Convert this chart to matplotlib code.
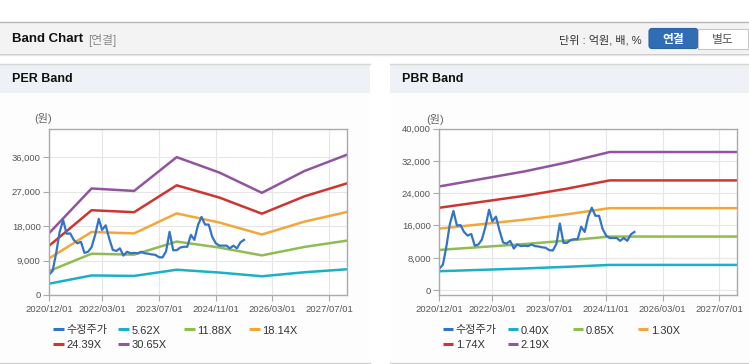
import numpy as np
import pandas as pd
import matplotlib
matplotlib.use('Agg')
import matplotlib.pyplot as plt
import matplotlib.dates as mdates
from matplotlib.patches import Rectangle, FancyBboxPatch
from matplotlib.ticker import FuncFormatter

plt.rcParams['font.family'] = ['Liberation Sans', 'Noto Sans CJK KR']

# 수정주가 (monthly, 2020/12 ~ 2025/07)
price_start = '2020-12-01'
price = [5300, 6300, 11000, 16300, 19600, 16000, 16100, 14400, 13500, 13900,
         11000, 11300, 12500, 15700, 19900, 17000, 18200, 14800, 11800, 11500,
         12200, 10300, 11300, 10900, 11000, 10900, 11300, 10900, 10800, 10600,
         10500, 9900, 9800, 11400, 16500, 11700, 11700, 12400, 12600, 12600,
         15700, 14400, 18300, 20400, 18400, 18400, 15200, 13500, 12900, 12900,
         12900, 12200, 12900, 12200, 13800, 14400]

# PER band
per_dates = ['2020-12-01', '2021-12-01', '2022-12-01', '2023-12-01',
             '2024-12-01', '2025-12-01', '2026-12-01', '2027-12-01']
per_labels = ['5.62X', '11.88X', '18.14X', '24.39X', '30.65X']
per_562 = [2956, 5103, 4985, 6604, 5867, 4895, 5940, 6722]
per_1188 = [6249, 10787, 10538, 13959, 12403, 10347, 12557, 14208]
per_1814 = [9542, 16471, 16090, 21315, 18938, 15800, 19174, 21695]
per_2439 = [12829, 22146, 21634, 28658, 25463, 21244, 25780, 29170]
per_3065 = [16122, 27830, 27187, 36014, 31999, 26696, 32397, 36657]

# PBR band
pbr_dates = ['2020-12-01', '2021-12-01', '2022-12-01', '2023-12-01',
             '2024-12-01', '2027-12-01']
pbr_labels = ['0.40X', '0.85X', '1.30X', '1.74X', '2.19X']
pbr_040 = [4687, 5026, 5366, 5774, 6243, 6243]
pbr_085 = [9959, 10681, 11404, 12269, 13266, 13266]
pbr_130 = [15232, 16336, 17441, 18764, 20289, 20289]
pbr_174 = [20388, 21865, 23344, 25115, 27156, 27156]
pbr_219 = [25660, 27520, 29380, 31610, 34180, 34180]

tick_dates = ['2020-12-01', '2022-03-01', '2023-07-01', '2024-11-01',
              '2026-03-01', '2027-07-01']
tick_labels = ['2020/12/01', '2022/03/01', '2023/07/01', '2024/11/01',
               '2026/03/01', '2027/07/01']

price_color = '#3274c8'
band_colors = ['#1ab0c8', '#8fbd4f', '#f3a73b', '#cf3530', '#91559e']

W, H = 749, 364
fig = plt.figure(figsize=(W / 100, H / 100), dpi=100)
fig.patch.set_facecolor('white')

# background / decoration in pixel coordinates
bg = fig.add_axes([0, 0, 1, 1])
bg.set_xlim(0, W)
bg.set_ylim(H, 0)
bg.axis('off')

# header bar
bg.add_patch(Rectangle((0, 22), W, 31, fc='#f3f3f3', ec='none'))
bg.plot([0, W], [22, 22], color='#b8b8b8', lw=1)
bg.plot([0, W], [53.5, 53.5], color='#c6c6c6', lw=1)
bg.plot([0, W], [54.5, 54.5], color='#e6e6e6', lw=1)
bg.text(12, 38.5, 'Band Chart', fontsize=9.5, fontweight='bold', va='center', color='#111')
bg.text(88, 39, '[연결]', fontsize=8.5, va='center_baseline', color='#8a8a8a')
bg.text(642, 39, '단위 : 억원, 배, %', fontsize=8, va='center_baseline', ha='right', color='#333')
bg.add_patch(FancyBboxPatch((649, 28.5), 49, 20, boxstyle='round,pad=0,rounding_size=3',
                            fc='#2f6eb5', ec='#2a63a3', lw=0.8))
bg.text(673.5, 39, '연결', fontsize=8.5, fontweight='bold', va='center_baseline', ha='center', color='white')
bg.add_patch(Rectangle((698, 28.5), 50, 20, fc='white', ec='#c5c5c5', lw=0.8))
bg.text(723, 39, '별도', fontsize=8.5, va='center_baseline', ha='center', color='#555')

# panels
for x0, x1, title in [(0, 370, 'PER Band'), (390, 749, 'PBR Band')]:
    bg.add_patch(Rectangle((x0, 64), x1 - x0, 28.5, fc='#eef1f6', ec='none'))
    bg.add_patch(Rectangle((x0, 92.5), x1 - x0, 270, fc='#fdfdfd', ec='none'))
    bg.plot([x0, x1], [64, 64], color='#d6d6d6', lw=1)
    bg.plot([x0, x1], [363, 363], color='#d0d0d0', lw=1)
    bg.text(x0 + 12, 78.5, title, fontsize=9, fontweight='bold', va='center', color='#111')

bg.text(43, 117.5, '(원)', fontsize=8, ha='center', va='center_baseline', color='#666')
bg.text(435, 118.5, '(원)', fontsize=8, ha='center', va='center_baseline', color='#666')


def px_axes(x0, y0, x1, y1):
    return fig.add_axes([x0 / W, 1 - y1 / H, (x1 - x0) / W, (y1 - y0) / H])


def style_axes(ax, yticks, ylim):
    ax.set_facecolor('white')
    for s in ax.spines.values():
        s.set_color('#aaaaaa')
        s.set_linewidth(1)
    ax.set_xticks([mdates.date2num(pd.Timestamp(d)) for d in tick_dates])
    ax.set_xticklabels(tick_labels)
    ax.set_yticks(yticks)
    ax.set_ylim(*ylim)
    ax.yaxis.set_major_formatter(FuncFormatter(lambda v, p: '{:,.0f}'.format(v)))
    ax.grid(True, color='#e6e6e6', lw=0.8)
    ax.set_axisbelow(True)
    ax.tick_params(colors='#aaaaaa', labelcolor='#555555', labelsize=6.8,
                   length=4, width=0.8)
    ax.tick_params(axis='y', pad=2)
    ax.tick_params(axis='x', pad=3)


def draw_legend(xs, names, colors):
    rows = [329, 344]
    for i, (name, c) in enumerate(zip(names, colors)):
        r, col = divmod(i, 4)
        x = xs[col]
        y = rows[r]
        bg.plot([x, x + 10.5], [y, y], color=c, lw=2.2, solid_capstyle='butt')
        bg.text(x + 13, y + 0.5, name, fontsize=8, va='center_baseline', color='#333')


price_x = pd.date_range(price_start, periods=len(price), freq='MS')

# PER
ax1 = px_axes(49, 128.5, 347, 295)
style_axes(ax1, [0, 9000, 18000, 27000, 36000], (0, 43500))
per_series = [per_562, per_1188, per_1814, per_2439, per_3065]
per_x = pd.to_datetime(per_dates)
for vals, c in zip(per_series, band_colors):
    ax1.plot(per_x, vals, color=c, lw=1.8)
ax1.plot(price_x, price, color=price_color, lw=1.6)

# PBR
ax2 = px_axes(439.3, 128.5, 737.3, 295)
style_axes(ax2, [0, 8000, 16000, 24000, 32000, 40000], (-1200, 40000))
pbr_series = [pbr_040, pbr_085, pbr_130, pbr_174, pbr_219]
pbr_x = pd.to_datetime(pbr_dates)
for vals, c in zip(pbr_series, band_colors):
    ax2.plot(pbr_x, vals, color=c, lw=1.8)
ax2.plot(price_x, price, color=price_color, lw=1.6)

for ax in (ax1, ax2):
    ax.set_xlim(mdates.date2num(pd.Timestamp('2020-12-01')),
                mdates.date2num(pd.Timestamp('2027-12-01')))

draw_legend([53.3, 118.3, 184, 249], ['수정주가'] + per_labels, [price_color] + band_colors)
draw_legend([442.7, 507.7, 572.7, 637.7], ['수정주가'] + pbr_labels, [price_color] + band_colors)

fig.savefig('out.png', dpi=100)
